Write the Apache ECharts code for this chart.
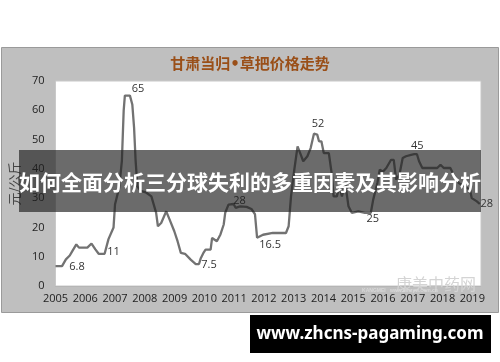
<!DOCTYPE html>
<html>
<head>
<meta charset="utf-8">
<script src="https://cdn.jsdelivr.net/npm/echarts@6/dist/echarts.min.js"></script>
<style>
html,body{margin:0;padding:0;background:#fff;}
#c{width:500px;height:362px;}
</style>
</head>
<body>
<div id="c"></div>
<script>
// Data (year as decimal, price 元/公斤)
var years = [2005.00,2005.22,2005.35,2005.48,2005.57,2005.70,2005.79,2006.07,2006.21,2006.34,
  2006.45,2006.65,2006.78,2006.84,2006.95,2007.00,2007.14,2007.23,2007.29,2007.33,
  2007.50,2007.58,2007.64,2007.69,2007.75,2007.86,2008.03,2008.22,2008.38,2008.44,
  2008.55,2008.72,2008.82,2008.99,2009.10,2009.21,2009.35,2009.54,2009.71,2009.82,
  2009.88,2009.98,2010.04,2010.21,2010.26,2010.42,2010.54,2010.65,2010.70,2010.81,
  2010.98,2011.05,2011.20,2011.42,2011.58,2011.70,2011.77,2011.97,2012.30,2012.74,
  2012.83,2012.91,2013.02,2013.13,2013.24,2013.32,2013.46,2013.57,2013.68,2013.79,
  2013.85,2013.93,2014.01,2014.18,2014.23,2014.29,2014.34,2014.45,2014.53,2014.62,
  2014.73,2014.84,2014.95,2015.17,2015.39,2015.59,2015.67,2015.81,2015.89,2016.00,
  2016.11,2016.27,2016.36,2016.44,2016.55,2016.66,2016.77,2016.94,2017.05,2017.14,
  2017.21,2017.32,2017.82,2017.93,2018.04,2018.26,2018.37,2018.54,2018.92,2018.98,
  2019.15,2019.25];
var prices = [6.8,6.8,9.1,10.4,12,14.2,13.1,13.1,14.5,12.5,
  11,11,16,15.4,20,27.9,33.6,42.7,59.8,65,
  65,62,54,43,34,32.5,32,30.6,25,20.4,
  21.5,25.5,23,18.7,15.3,11.3,11,9,7.5,7.5,
  9.5,11.5,12.4,12.4,16.4,15.3,17.6,21,25,27.8,
  28,26.7,27.2,27,26.3,24.5,16.5,17.5,18.1,18.1,
  20.4,30.6,39.7,47.7,44.8,42.6,44.3,47.1,52,51.7,
  49.4,49.4,45.4,45.4,46,37.4,30.6,30.6,34,30.6,
  35.2,27.2,25,25.5,25,25,29.5,35.2,39.7,39.1,
  40.3,43.1,43.1,36.3,38,43.7,44.3,44.8,45,45,
  42.6,40.3,40.3,41.4,40.3,40.3,38,35.2,32.9,30,
  28.9,28];
var labelIndex = [1, 11, 20, 39, 50, 56, 68, 85, 98, 111];
var yTicks = [0,10,20,30,40,50,60,70];
var titleText = '甘肃当归•草把价格走势';
var yName = '元/公斤';
var bannerText = '如何全面分析三分球失利的多重因素及其影响分析';
var siteText = 'www.zhcns-pagaming.com';

// label placement (style, not data)
var labelOffsets = {1:[15,1],11:[9,-1.5],20:[8,-7],39:[10,1],50:[6,-3],56:[13,7],68:[4,-10],85:[2,6],98:[3,-8],111:[7,0]};

var seriesData = years.map(function(x,i){
  var item = {value:[x, prices[i]]};
  if (labelIndex.indexOf(i) >= 0) {
    item.label = {show:true, position:'inside', offset:labelOffsets[i],
      formatter: String(prices[i]), color:'#333', fontSize:11,
      fontFamily:'"Open Sans", "DejaVu Sans", sans-serif'};
  }
  return item;
});

var chart = echarts.init(document.getElementById('c'), null, {renderer:'canvas'});
chart.setOption({
  animation:false,
  backgroundColor:'#ffffff',
  title:{text:titleText, left:'center', top:53,
    textStyle:{color:'#9a4f18', fontSize:15, fontWeight:'bold', fontFamily:'"DejaVu Sans", "Noto Sans CJK SC", sans-serif'}},
  grid:{left:49, right:19, top:81, bottom:76, show:true, backgroundColor:'#ffffff', borderColor:'#c8c8c8', borderWidth:1, z:1},
  xAxis:{type:'value', min:2005, max:2019.29, interval:1,
    axisLine:{show:false}, axisTick:{show:false}, splitLine:{show:false},
    axisLabel:{color:'#222', fontSize:11, margin:7, fontFamily:'"Open Sans", "DejaVu Sans", sans-serif',
      formatter:function(v){return Math.abs(v-Math.round(v))<1e-6 ? String(Math.round(v)) : '';}}},
  yAxis:{type:'value', min:yTicks[0], max:yTicks[yTicks.length-1], interval:10,
    name:yName, nameLocation:'middle', nameGap:33, nameRotate:90,
    nameTextStyle:{color:'#444', fontSize:13, fontFamily:'"Noto Sans CJK SC", sans-serif'},
    axisLine:{show:false}, axisTick:{show:false},
    splitLine:{lineStyle:{color:'#a3a3a3', width:1}},
    axisLabel:{color:'#222', fontSize:11, margin:11, fontFamily:'"Open Sans", "DejaVu Sans", sans-serif'}},
  graphic:[
    {type:'rect', z:-10, shape:{x:1.5, y:47.5, width:497, height:265}, style:{fill:'#bfbfbf', stroke:'#9a9a9a', lineWidth:1}},
    {type:'text', z:5, x:436, y:284, style:{text:'康美中药网', fill:'#d4d4d4', font:'16px "Noto Sans CJK SC", sans-serif', textAlign:'center', textVerticalAlign:'middle'}},
    {type:'text', z:5, x:400, y:291, style:{text:'KANGMEI   www.kmzyw.com.cn', fill:'#d8d8d8', font:'bold 5px sans-serif', textAlign:'center', textVerticalAlign:'middle'}},
    {type:'rect', z:100, shape:{x:19, y:150, width:462, height:62}, style:{fill:'rgba(30,30,30,0.66)'}},
    {type:'text', z:101, x:250, y:182, style:{text:bannerText, fill:'#ffffff', font:'bold 21px "Noto Sans CJK SC", sans-serif', textAlign:'center', textVerticalAlign:'middle'}},
    {type:'rect', z:100, shape:{x:250, y:315, width:241, height:38}, style:{fill:'#000000'}},
    {type:'text', z:101, x:370, y:334, style:{text:siteText, fill:'#ffffff', font:'bold 17px "Noto Sans", sans-serif', textAlign:'center', textVerticalAlign:'middle'}}
  ],
  series:[{
    type:'line', data:seriesData, z:3,
    showSymbol:true, symbol:'circle', symbolSize:1,
    itemStyle:{color:'rgba(0,0,0,0)'},
    lineStyle:{color:'#727272', width:2.3},
    emphasis:{disabled:true}
  }]
});
</script>
</body>
</html>
